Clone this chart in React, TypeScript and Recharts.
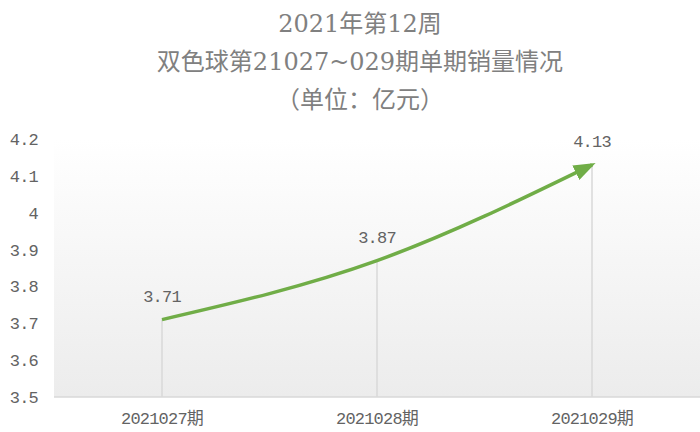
import { LineChart, Line, XAxis, YAxis, CartesianGrid, LabelList, ReferenceLine } from 'recharts';

const periods = ['2021027期', '2021028期', '2021029期'];
const sales = [3.71, 3.87, 4.13];
const yTicks = [3.5, 3.6, 3.7, 3.8, 3.9, 4.0, 4.1, 4.2];
const titleLines = ['2021年第12周', '双色球第21027~029期单期销量情况', '（单位：亿元）'];

const GREEN = '#70ad47';
const TEXT = '#636363';
const monoFont = "'Liberation Mono', 'Noto Sans CJK SC', monospace";

const chartData = periods.map((p, i) => ({ period: p, sales: sales[i] }));

const fmtTick = (v: number) => String(Number(v.toFixed(1)));

export default function App() {
  return (
    <div style={{ position: 'fixed', left: 0, top: 0, width: 700, height: 432, background: '#fff' }}>
      <div
        style={{
          position: 'absolute',
          left: 10,
          top: 5,
          width: 700,
          textAlign: 'center',
          color: '#808080',
          fontFamily: "'DejaVu Serif', 'Noto Sans CJK SC', serif",
          fontSize: 24,
          lineHeight: '38px',
        }}
      >
        {titleLines.map((t) => (
          <div key={t}>{t}</div>
        ))}
      </div>
      <LineChart
        width={700}
        height={432}
        data={chartData}
        margin={{ top: 139, right: 0, left: 0, bottom: 5 }}
      >
        <defs>
          <linearGradient id="plotBg" x1="0" y1="0" x2="0" y2="1">
            <stop offset="0" stopColor="#ffffff" />
            <stop offset="1" stopColor="#ececec" />
          </linearGradient>
          <marker
            id="arrowHead"
            markerUnits="userSpaceOnUse"
            markerWidth="22"
            markerHeight="16"
            refX="18"
            refY="8"
            orient="auto"
          >
            <path d="M0,0 L22,8 L0,16 z" fill={GREEN} />
          </marker>
        </defs>
        <CartesianGrid horizontal={false} vertical={false} fill="url(#plotBg)" />
        <XAxis
          dataKey="period"
          height={30}
          padding={{ left: 108, right: 108 }}
          tickLine={false}
          tickMargin={9}
          axisLine={{ stroke: '#d9d9d9', strokeWidth: 1.5 }}
          tick={{ fill: TEXT, fontSize: 17, fontFamily: monoFont, letterSpacing: -0.8 }}
        />
        <YAxis
          width={54}
          domain={[3.5, 4.2]}
          ticks={yTicks}
          interval={0}
          tickFormatter={fmtTick}
          tickLine={false}
          axisLine={false}
          tickMargin={10}
          tick={{ fill: TEXT, fontSize: 17, fontFamily: monoFont, letterSpacing: -0.8 }}
        />
        {chartData.map((d) => (
          <ReferenceLine
            key={d.period}
            segment={[
              { x: d.period, y: 3.5 },
              { x: d.period, y: d.sales },
            ]}
            stroke="#d9d9d9"
            strokeWidth={1.5}
          />
        ))}
        <Line
          type="monotone"
          dataKey="sales"
          stroke={GREEN}
          strokeWidth={3.5}
          dot={false}
          activeDot={false}
          markerEnd="url(#arrowHead)"
          isAnimationActive={false}
        >
          <LabelList
            dataKey="sales"
            position="top"
            offset={18}
            fill={TEXT}
            fontSize={17}
            fontFamily={monoFont}
            letterSpacing={-0.8}
          />
        </Line>
      </LineChart>
    </div>
  );
}
